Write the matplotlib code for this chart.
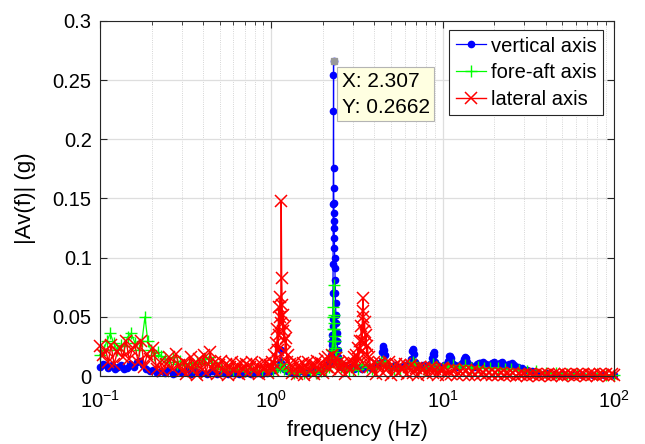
import matplotlib
matplotlib.use("Agg")
import matplotlib.pyplot as plt
from matplotlib.ticker import FormatStrFormatter, LogLocator

plt.rcParams['font.family'] = ['Liberation Sans', 'DejaVu Sans']
plt.rcParams['mathtext.default'] = 'regular'

# vertical axis spectrum
freq_v = [0.100, 0.104, 0.108, 0.112, 0.117, 0.122, 0.127, 0.132, 0.138, 0.144,
          0.150, 0.157, 0.164, 0.171, 0.178, 0.186, 0.195, 0.205, 0.215, 0.226,
          0.238, 0.250, 0.265, 0.280, 0.300, 0.320, 0.340, 0.360, 0.390, 0.420,
          0.450, 0.480, 0.520, 0.560, 0.600, 0.650, 0.700, 0.760, 0.820, 0.880,
          0.940, 1.000, 1.050, 1.090, 1.120, 1.140, 1.160, 1.190, 1.240, 1.320,
          1.420, 1.520, 1.620, 1.740, 1.860, 1.980, 2.080, 2.150,
          2.200, 2.220, 2.235, 2.248, 2.258, 2.266, 2.273, 2.279, 2.284, 2.289,
          2.293, 2.297, 2.300, 2.303, 2.307, 2.310, 2.313, 2.316, 2.319, 2.322,
          2.326, 2.330, 2.335, 2.340, 2.346, 2.353, 2.361, 2.370, 2.380, 2.392,
          2.405, 2.420, 2.437, 2.456, 2.478,
          2.500, 2.550, 2.620, 2.750, 2.900, 3.050, 3.200, 3.400, 3.600, 3.800,
          4.000, 4.200,
          4.380, 4.420, 4.460, 4.500, 4.540, 4.580, 4.630, 4.750, 5.000, 5.300,
          5.600, 6.000, 6.300,
          6.550, 6.620, 6.680, 6.740, 6.800, 6.870, 7.000, 7.300, 7.700, 8.100,
          8.450,
          8.650, 8.750, 8.850, 8.950, 9.050, 9.300, 9.700, 10.20, 10.60,
          10.80, 10.95, 11.10, 11.25, 11.40, 11.80, 12.30, 12.80, 13.10,
          13.30, 13.50, 13.70, 13.90, 14.50, 15.30, 15.80, 16.20, 16.60, 17.20,
          17.80, 18.60,
          19.40, 19.80, 20.30, 21.00, 21.70, 22.10, 22.60, 23.50, 24.50, 25.30,
          26.00, 27.50, 29.00, 31.00, 33.00, 36.00, 40.00, 45.00, 50.00, 57.00,
          65.0, 75.0, 87.0, 100.0]
amp_v = [0.008, 0.010, 0.009, 0.007, 0.009, 0.006, 0.008, 0.009, 0.006, 0.007,
         0.010, 0.008, 0.012, 0.013, 0.009, 0.006, 0.004, 0.005, 0.003, 0.004,
         0.003, 0.005, 0.002, 0.004, 0.003, 0.006, 0.002, 0.004, 0.003, 0.002,
         0.004, 0.002, 0.003, 0.002, 0.003, 0.002, 0.003, 0.002, 0.003, 0.002,
         0.003, 0.004, 0.005, 0.008, 0.012, 0.022, 0.010, 0.006, 0.004, 0.003,
         0.003, 0.004, 0.003, 0.005, 0.004, 0.006, 0.008, 0.010,
         0.012, 0.018, 0.015, 0.026, 0.022, 0.035, 0.030, 0.048, 0.042, 0.070,
         0.095, 0.145, 0.224, 0.254, 0.2662, 0.176, 0.159, 0.146, 0.138, 0.131,
         0.125, 0.117, 0.108, 0.100, 0.091, 0.081, 0.070, 0.062, 0.052, 0.045,
         0.036, 0.030, 0.022, 0.016, 0.012,
         0.010, 0.008, 0.009, 0.007, 0.008, 0.006, 0.007, 0.006, 0.008, 0.007,
         0.008, 0.010,
         0.012, 0.020, 0.024, 0.025, 0.022, 0.018, 0.010, 0.009, 0.008, 0.009,
         0.008, 0.009, 0.010,
         0.014, 0.021, 0.023, 0.022, 0.019, 0.012, 0.010, 0.008, 0.009, 0.008,
         0.010,
         0.015, 0.019, 0.020, 0.018, 0.012, 0.009, 0.008, 0.009, 0.010,
         0.013, 0.017, 0.017, 0.015, 0.011, 0.009, 0.008, 0.010, 0.012,
         0.014, 0.016, 0.015, 0.012, 0.009, 0.008, 0.010, 0.011, 0.011, 0.012,
         0.010, 0.009,
         0.011, 0.012, 0.010, 0.009, 0.011, 0.012, 0.010, 0.009, 0.010, 0.011,
         0.009, 0.008, 0.007, 0.005, 0.004, 0.003, 0.0025, 0.002, 0.0015, 0.001,
         0.001, 0.0008, 0.0008, 0.0007]

# fore-aft axis spectrum
freq_f = [0.100, 0.105, 0.110, 0.115, 0.120, 0.126, 0.132, 0.138, 0.145, 0.152,
          0.160, 0.168, 0.176, 0.183, 0.190, 0.198, 0.207, 0.217, 0.228, 0.240,
          0.252, 0.265, 0.280, 0.295, 0.310, 0.330, 0.350, 0.370, 0.390, 0.410,
          0.430, 0.450, 0.480, 0.510, 0.550, 0.600, 0.650, 0.700, 0.760, 0.820,
          0.880, 0.950, 1.020, 1.080, 1.120, 1.150, 1.180, 1.250, 1.350, 1.450,
          1.550, 1.680, 1.820, 1.960, 2.080, 2.170, 2.230, 2.260, 2.280, 2.292,
          2.300, 2.305, 2.310, 2.316, 2.322, 2.330, 2.340, 2.352, 2.366, 2.382,
          2.400, 2.430, 2.480, 2.560, 2.680, 2.850,
          3.000, 3.200, 3.400, 3.600, 3.850, 4.100, 4.350, 4.500, 4.650, 4.900,
          5.200, 5.600, 6.000, 6.400, 6.700, 6.900, 7.300, 7.800, 8.300, 8.800,
          9.300, 10.00, 10.80, 11.50, 12.40, 13.50, 14.60, 16.00, 17.50, 19.00,
          21.00, 23.00, 25.00, 28.00, 31.00, 35.00, 40.00, 46.00, 53.00, 61.00,
          70.00, 80.00, 90.00, 100.0]
amp_f = [0.018, 0.022, 0.030, 0.036, 0.028, 0.022, 0.026, 0.025, 0.033, 0.036,
         0.028, 0.022, 0.030, 0.050, 0.030, 0.022, 0.018, 0.020, 0.017, 0.014,
         0.012, 0.016, 0.010, 0.013, 0.009, 0.011, 0.008, 0.012, 0.010, 0.014,
         0.016, 0.011, 0.008, 0.006, 0.007, 0.005, 0.006, 0.004, 0.006, 0.005,
         0.004, 0.005, 0.004, 0.006, 0.008, 0.010, 0.006, 0.004, 0.003, 0.004,
         0.003, 0.004, 0.003, 0.004, 0.005, 0.008, 0.015, 0.022, 0.030, 0.040,
         0.050, 0.058, 0.077, 0.052, 0.045, 0.040, 0.034, 0.030, 0.024, 0.020,
         0.016, 0.013, 0.010, 0.008, 0.006, 0.005,
         0.005, 0.006, 0.010, 0.008, 0.006, 0.007, 0.012, 0.013, 0.010, 0.007,
         0.006, 0.006, 0.007, 0.009, 0.012, 0.010, 0.007, 0.006, 0.008, 0.010,
         0.008, 0.007, 0.008, 0.009, 0.007, 0.009, 0.007, 0.008, 0.007, 0.007,
         0.007, 0.006, 0.006, 0.005, 0.004, 0.004, 0.003, 0.003, 0.002, 0.002,
         0.0015, 0.0015, 0.001, 0.001]

# lateral axis spectrum
freq_l = [0.100, 0.104, 0.108, 0.112, 0.116, 0.121, 0.126, 0.131, 0.136, 0.142,
          0.148, 0.154, 0.160, 0.167, 0.174, 0.181, 0.189, 0.197, 0.205, 0.214,
          0.223, 0.233, 0.243, 0.254, 0.265, 0.277, 0.289,
          0.300, 0.309, 0.318, 0.328, 0.338, 0.348, 0.358, 0.369, 0.380, 0.391,
          0.403, 0.415, 0.428, 0.441, 0.454, 0.467, 0.481, 0.496, 0.511, 0.526,
          0.542, 0.558, 0.575, 0.592, 0.610, 0.628, 0.647, 0.666, 0.686, 0.707,
          0.728, 0.750, 0.772, 0.796, 0.820, 0.844, 0.870, 0.896, 0.923, 0.950,
          0.979,
          1.000, 1.012, 1.025, 1.038, 1.050, 1.062, 1.073, 1.084, 1.094, 1.103,
          1.112, 1.120, 1.128, 1.135, 1.142, 1.149, 1.156, 1.164, 1.173, 1.183,
          1.194, 1.206, 1.219, 1.233, 1.248,
          1.281, 1.313, 1.346, 1.380, 1.414, 1.450, 1.486, 1.523, 1.561, 1.600,
          1.640, 1.681, 1.723, 1.766, 1.810, 1.855, 1.902, 1.949, 1.998, 2.048,
          2.099, 2.152, 2.205, 2.261, 2.317, 2.375, 2.434, 2.495, 2.558, 2.622,
          2.687, 2.754, 2.823, 2.894, 2.966, 3.040,
          3.080, 3.120, 3.160, 3.200, 3.240, 3.280, 3.315, 3.350, 3.380, 3.405,
          3.425, 3.445, 3.470, 3.500, 3.530, 3.565, 3.600, 3.640, 3.685, 3.735,
          3.790,
          3.850, 3.966, 4.085, 4.207, 4.333, 4.463, 4.597, 4.735, 4.877, 5.023,
          5.174, 5.329, 5.489, 5.654, 5.823, 5.998, 6.178, 6.363, 6.554, 6.750,
          6.953, 7.162, 7.376, 7.598, 7.826, 8.061, 8.302, 8.551, 8.808, 9.072,
          9.345, 9.625, 9.914,
          10.0, 10.4, 10.8, 11.2, 11.7, 12.2, 12.7, 13.2, 13.7, 14.2,
          14.8, 15.4, 16.0, 16.7, 17.3, 18.0, 18.7, 19.5, 20.3, 21.1,
          21.9, 22.8, 23.7, 24.7, 25.6, 26.7, 27.7, 28.8, 30.0, 31.2,
          32.4, 33.7, 35.1, 36.5, 37.9, 39.5, 41.0, 42.7, 44.4, 46.2,
          48.0, 49.9, 51.9, 54.0, 56.2, 58.4, 60.7, 63.2, 65.7, 68.3,
          71.1, 73.9, 76.9, 79.9, 83.1, 86.5, 89.9, 93.5, 97.3, 100.0]
amp_l = [0.025, 0.018, 0.022, 0.012, 0.026, 0.010, 0.020, 0.024, 0.016, 0.030,
         0.014, 0.022, 0.026, 0.012, 0.030, 0.008, 0.019, 0.014, 0.024, 0.006,
         0.012, 0.004, 0.010, 0.016, 0.006, 0.019, 0.009,
         0.004, 0.012, 0.002, 0.009, 0.016, 0.005, 0.011, 0.001, 0.014, 0.007,
         0.018, 0.003, 0.010, 0.020, 0.006, 0.012, 0.002, 0.009, 0.013, 0.004,
         0.010, 0.001, 0.008, 0.012, 0.005, 0.009, 0.002, 0.011, 0.006, 0.010,
         0.003, 0.008, 0.012, 0.004, 0.009, 0.002, 0.010, 0.006, 0.011, 0.003,
         0.009,
         0.008, 0.012, 0.005, 0.018, 0.010, 0.028, 0.015, 0.040, 0.022, 0.058,
         0.035, 0.050, 0.067, 0.045, 0.148, 0.083, 0.060, 0.038, 0.052, 0.030,
         0.042, 0.020, 0.032, 0.012, 0.018,
         0.010, 0.003, 0.008, 0.012, 0.002, 0.009, 0.005, 0.011, 0.001, 0.008,
         0.012, 0.004, 0.010, 0.002, 0.009, 0.013, 0.005, 0.011, 0.003, 0.014,
         0.008, 0.016, 0.006, 0.018, 0.010, 0.015, 0.004, 0.012, 0.007, 0.011,
         0.002, 0.009, 0.013, 0.005, 0.010, 0.016,
         0.010, 0.018, 0.008, 0.024, 0.014, 0.030, 0.020, 0.042, 0.030, 0.055,
         0.066, 0.050, 0.038, 0.046, 0.028, 0.035, 0.018, 0.025, 0.012, 0.016,
         0.008,
         0.004, 0.012, 0.002, 0.009, 0.011, 0.003, 0.010, 0.006, 0.012, 0.001,
         0.008, 0.010, 0.003, 0.009, 0.005, 0.010, 0.002, 0.008, 0.009, 0.003,
         0.007, 0.001, 0.008, 0.005, 0.007, 0.002, 0.006, 0.008, 0.003, 0.006,
         0.001, 0.005, 0.007,
         0.006, 0.001, 0.005, 0.002, 0.006, 0.001, 0.004, 0.002, 0.005, 0.001,
         0.004, 0.001, 0.004, 0.002, 0.003, 0.001, 0.003, 0.0005, 0.003, 0.001,
         0.0025, 0.0005, 0.002, 0.001, 0.0025, 0.0003, 0.002, 0.001, 0.0015, 0.0003,
         0.0015, 0.0005, 0.0015, 0.0003, 0.0015, 0.0005, 0.0015, 0.0003, 0.0015, 0.0005,
         0.0015, 0.0003, 0.0015, 0.0005, 0.0015, 0.0003, 0.0015, 0.0005, 0.0015, 0.0003,
         0.0015, 0.0005, 0.0015, 0.0003, 0.0015, 0.0005, 0.0015, 0.0003, 0.0015, 0.0005]

tip_x = 2.307
tip_y = 0.2662

fig = plt.figure(figsize=(6.45, 4.44), dpi=100)
ax = fig.add_axes([0.155, 0.153, 0.797, 0.800])

ax.plot(freq_v, amp_v, color='#0000ff', lw=0.9, marker='o', ms=4.5,
        mec='#0000ff', mfc='#0000ff', label='vertical axis', clip_on=False)
ax.plot(freq_f, amp_f, color='#00ff00', lw=0.9, marker='+', ms=9, mew=1.0,
        label='fore-aft axis', clip_on=False)
ax.plot(freq_l, amp_l, color='#ff0000', lw=1.0, marker='x', ms=8, mew=1.1,
        label='lateral axis', clip_on=False)

ax.set_xscale('log')
ax.set_xlim(0.1, 100)
ax.set_ylim(0, 0.3)
ax.set_yticks([0, 0.05, 0.1, 0.15, 0.2, 0.25, 0.3])
ax.yaxis.set_major_formatter(FormatStrFormatter('%g'))
ax.xaxis.set_minor_locator(LogLocator(base=10, subs=range(2, 10)))

ax.grid(True, which='major', color='#dedede', lw=0.9, ls='-')
ax.grid(True, which='minor', axis='x', color='#c8c8c8', lw=0.6, ls=':')
ax.set_axisbelow(True)

ax.tick_params(which='both', direction='in', top=True, right=True,
               labelsize=14.5, colors='#262626', labelcolor='black')
ax.tick_params(which='major', length=5)
ax.tick_params(axis='y', pad=6)
ax.tick_params(axis='x', which='major', pad=10)
ax.tick_params(which='minor', length=3)
for s in ax.spines.values():
    s.set_color('#262626')
    s.set_linewidth(0.8)

ax.set_xlabel('frequency (Hz)', fontsize=15.5, labelpad=6)
ax.set_ylabel('|Av(f)| (g)', fontsize=16, labelpad=12)

leg = ax.legend(loc='upper right', bbox_to_anchor=(0.979, 0.974),
                borderaxespad=0, fontsize=14.5, fancybox=False,
                edgecolor='#262626', framealpha=1, handlelength=1.5,
                handletextpad=0.25, labelspacing=0.38, borderpad=0.32)
leg.get_frame().set_linewidth(0.8)

# data tip
ax.plot([tip_x], [tip_y], marker='s', ms=5, color='#999999', zorder=5)
ax.annotate('X: %.3f\nY: %.4f' % (tip_x, tip_y), xy=(tip_x, tip_y),
            xytext=(6, -8), textcoords='offset points', ha='left', va='top',
            fontsize=15, linespacing=1.45, zorder=6,
            bbox=dict(boxstyle='square,pad=0.22', fc='#ffffe1', ec='#b4b4b4', lw=0.8))

fig.savefig('out.png', dpi=100)
